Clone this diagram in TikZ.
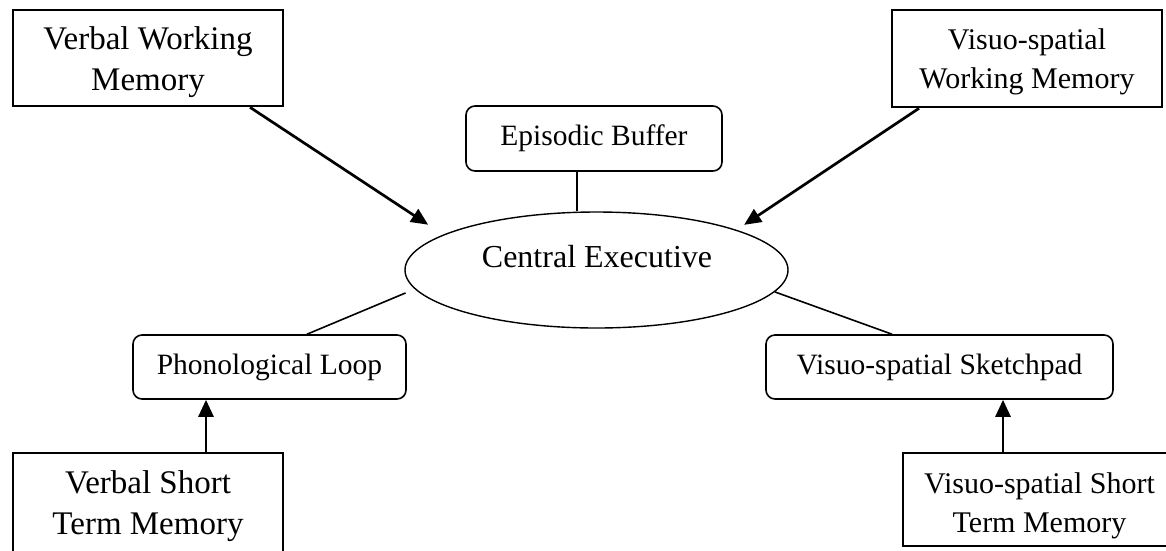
\documentclass[tikz,border=0pt]{standalone}
\usepackage{fontspec}
\setmainfont{Liberation Serif}
\usetikzlibrary{arrows.meta,shapes.geometric,calc}
\begin{document}
\begin{tikzpicture}[x=1pt,y=-1pt,
  sharpbox/.style={draw, line width=2.6pt, rectangle, inner sep=0pt},
  boxtext/.style={inner sep=0pt, align=center},
  lefttext/.style={boxtext, font=\fontsize{33}{41}\selectfont},
  righttext/.style={boxtext, font=\fontsize{30}{39}\selectfont},
  roundbox/.style={draw, line width=1.6pt, rectangle, rounded corners=9pt, inner sep=0pt,
    minimum height=64pt, font=\fontsize{29.5}{35}\selectfont},
  arr/.style={line width=2.7pt, -{Triangle[length=17pt,width=15pt]}},
  link/.style={line width=1.6pt}]
\useasboundingbox (0,0) rectangle (1166,550);

% top boxes
\node[sharpbox, minimum width=270pt, minimum height=96pt] (vwm) at (148,58) {};
\node[lefttext] (vwmt) at (148,62) {Verbal Working\\Memory};
\node[sharpbox, minimum width=270pt, minimum height=97pt] (vswm) at (1027,58.5) {};
\node[righttext] (vswmt) at (1027,61.5) {Visuo-spatial\\Working Memory};

% episodic buffer
\node[roundbox, minimum width=256pt, minimum height=65pt] (eb) at (594,138.5) {Episodic Buffer};

% central executive
\node[draw, ellipse, line width=1.4pt, minimum width=383pt, minimum height=116pt, inner sep=0pt] (ce) at (596.5,270) {};
\node[font=\fontsize{32}{38}\selectfont, inner sep=0pt] (cet) at (597,257) {Central Executive};

% slave systems
\node[roundbox, minimum width=273pt] (pl) at (269.5,367) {Phonological Loop};
\node[roundbox, minimum width=347pt] (vss) at (939.5,367) {Visuo-spatial Sketchpad};

% bottom boxes
\node[sharpbox, minimum width=270pt, minimum height=102pt] (vstm) at (148,504) {};
\node[lefttext] (vstmt) at (148,506.5) {Verbal Short\\Term Memory};
\node[sharpbox, minimum width=273pt, minimum height=93pt] (vsstm) at (1039.5,499.5) {};
\node[righttext] (vsstmt) at (1039.5,505.5) {Visuo-spatial Short\\Term Memory};

% connectors
\draw[arr, shorten >=18pt] ([xshift=102pt]vwm.south) -- (ce.167);
\draw[arr, shorten >=9pt] ([xshift=-108pt]vswm.south) -- (ce.16);
\draw[link] ([xshift=-17pt]eb.south) -- ([xshift=-17pt]eb.south |- ce.north);
\draw[link, shorten >=10pt] ([xshift=37.5pt]pl.north) -- (ce.186);
\draw[link] ([xshift=-47.5pt]vss.north) -- (ce.353);
\draw[arr] ([xshift=58pt]vstm.north) -- ([xshift=58pt]vstm.north |- pl.south);
\draw[arr] ([xshift=-36.5pt]vsstm.north) -- ([xshift=-36.5pt]vsstm.north |- vss.south);
\end{tikzpicture}
\end{document}
